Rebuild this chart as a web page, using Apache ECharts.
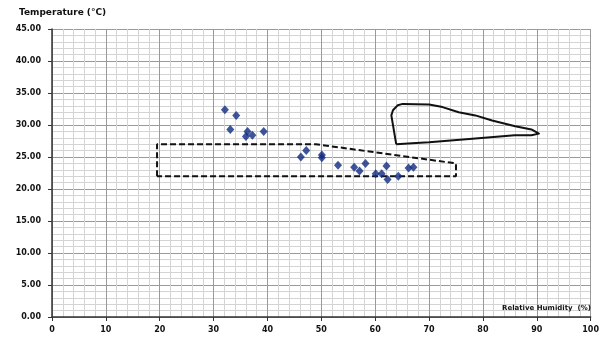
<!DOCTYPE html>
<html>
<head>
<meta charset="utf-8">
<script src="https://cdn.jsdelivr.net/npm/echarts@6/dist/echarts.min.js"></script>
<style>html,body{margin:0;padding:0;background:#fff}#c{width:602px;height:340px}</style>
</head>
<body>
<div id="c"></div>
<script>
// Measured data points (Relative Humidity %, Temperature °C)
const rhValues = [32.1, 34.2, 33.1, 36.3, 39.3, 36.0, 37.2, 46.2, 47.2, 50.1, 50.1, 53.1, 56.1, 57.1, 58.2, 60.1, 61.2, 62.1, 62.3, 64.3, 66.2, 67.1];
const tempValues = [32.4, 31.5, 29.3, 29.0, 29.0, 28.2, 28.4, 25.0, 26.0, 25.3, 24.9, 23.7, 23.4, 22.8, 24.0, 22.4, 22.4, 23.6, 21.5, 22.0, 23.3, 23.4];
// Dashed comfort zone outline
const zoneRh = [19.5, 19.5, 49, 75, 75, 19.5];
const zoneTemp = [22, 27, 27, 24, 22, 22];
// Solid closed region outline
const areaRh = [63.9, 63.0, 63.3, 64.2, 65.1, 70.0, 72.5, 75.5, 78.6, 81.7, 86.0, 89.0, 90.4, 89.0, 85.9, 78.6, 70.0, 67.6, 63.9];
const areaTemp = [27.0, 31.5, 32.3, 33.1, 33.3, 33.2, 32.8, 32.0, 31.5, 30.7, 29.8, 29.3, 28.65, 28.4, 28.4, 27.9, 27.3, 27.2, 27.0];
// Axis ticks
const xTicks = [0, 10, 20, 30, 40, 50, 60, 70, 80, 90, 100];
const yTicks = [0, 5, 10, 15, 20, 25, 30, 35, 40, 45];

const zip = (a, b) => a.map((v, i) => [v, b[i]]);
const font = 'DejaVu Sans';
const chart = echarts.init(document.getElementById('c'));
chart.setOption({
  animation: false,
  backgroundColor: '#fff',
  title: [
    {text: 'Temperature (°C)', left: 14, top: 3, textStyle: {fontFamily: font, fontSize: 9, fontWeight: 'bold', color: '#111'}},
    {text: 'Relative Humidity  (%)', left: 497, top: 300, textStyle: {fontFamily: font, fontSize: 7, fontWeight: 'bold', color: '#111'}}
  ],
  grid: {left: 52, right: 5, top: 29, bottom: 23, containLabel: false},
  xAxis: {
    type: 'value', min: xTicks[0], max: xTicks[xTicks.length - 1], interval: 10,
    axisLine: {onZero: false, lineStyle: {color: '#333', width: 1.5}},
    axisTick: {show: true, inside: false, length: 4, lineStyle: {color: '#333'}},
    axisLabel: {margin: 9, fontFamily: font, fontSize: 8, fontWeight: 'bold', color: '#111'},
    splitLine: {show: true, lineStyle: {color: '#9a9a9a', width: 1}},
    minorTick: {show: false, splitNumber: 5},
    minorSplitLine: {show: true, lineStyle: {color: '#d4d4d4', width: 1}}
  },
  yAxis: {
    type: 'value', min: yTicks[0], max: yTicks[yTicks.length - 1], interval: 5,
    axisLine: {show: true, onZero: false, lineStyle: {color: '#333', width: 1.5}},
    axisTick: {show: true, inside: false, length: 4, lineStyle: {color: '#333'}},
    axisLabel: {margin: 11, fontFamily: font, fontSize: 8, fontWeight: 'bold', color: '#111', formatter: v => v.toFixed(2)},
    splitLine: {show: true, lineStyle: {color: '#9a9a9a', width: 1}},
    minorTick: {show: false, splitNumber: 5},
    minorSplitLine: {show: true, lineStyle: {color: '#d4d4d4', width: 1}}
  },
  series: [
    {type: 'line', data: zip(zoneRh, zoneTemp), symbol: 'none', lineStyle: {color: '#111', width: 2, type: [6, 3]}, z: 3},
    {type: 'line', data: zip(areaRh, areaTemp), symbol: 'none', smooth: false, lineStyle: {color: '#111', width: 2, join: 'round'}, z: 3},
    {type: 'scatter', data: zip(rhValues, tempValues), symbol: 'diamond', symbolSize: [8, 9], itemStyle: {color: '#102a80'}, z: 4}
  ]
});
</script>
</body>
</html>
